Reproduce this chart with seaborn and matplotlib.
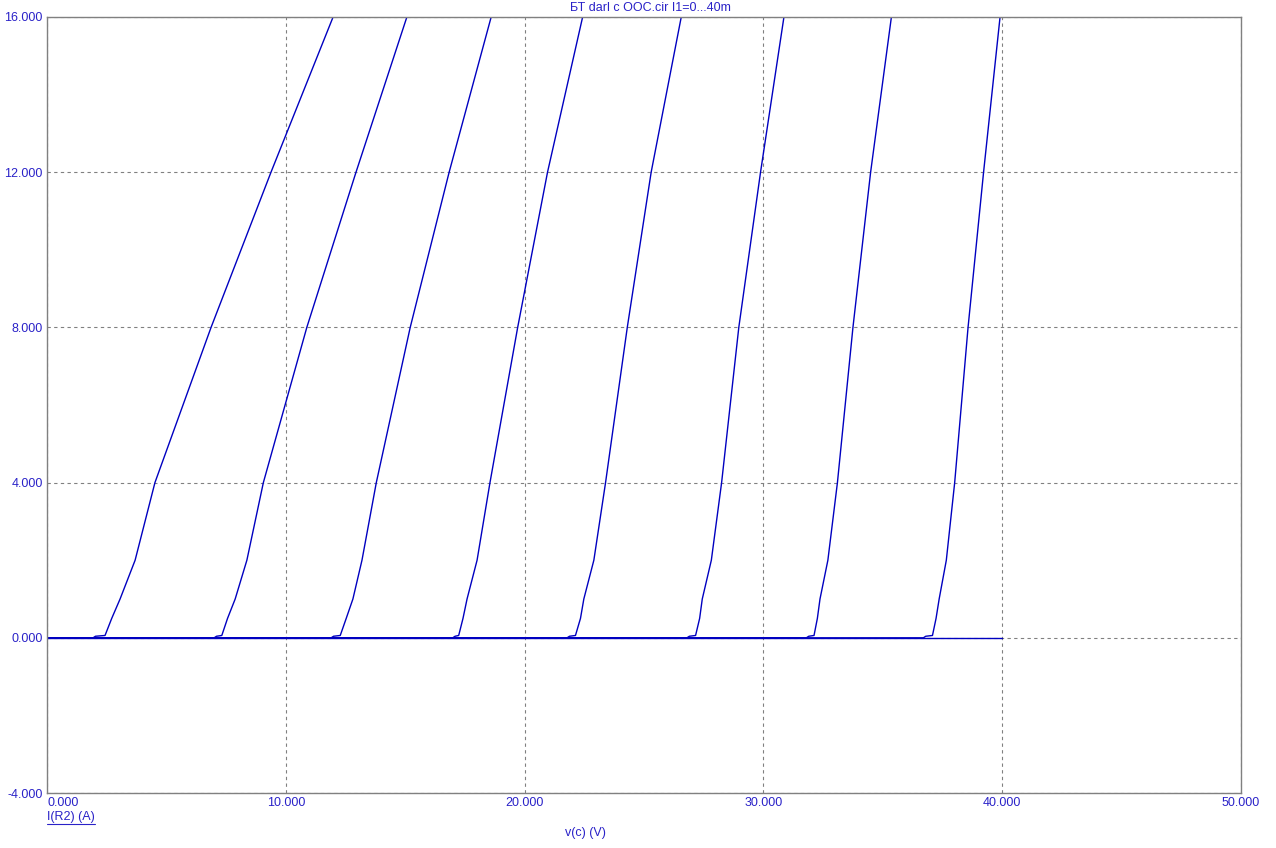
import numpy as np
import pandas as pd
import matplotlib.pyplot as plt
import seaborn as sns
from matplotlib.lines import Line2D

# collector current levels shared by every curve (A)
i_levels = [0.0, 0.0, 0.04, 0.06, 0.5, 1.0, 2.0, 4.0, 8.0, 12.0, 16.0]

# v(c) for each I1 step (V), same order as i_levels
v_5m = [0.0, 1.93, 2.03, 2.43, 2.71, 3.06, 3.69, 4.52, 6.87, 9.38, 11.98]
v_10m = [0.0, 7.00, 7.10, 7.32, 7.56, 7.88, 8.37, 9.06, 10.88, 12.94, 15.07]
v_15m = [0.0, 11.90, 12.00, 12.28, 12.53, 12.81, 13.19, 13.79, 15.21, 16.84, 18.60]
v_20m = [0.0, 16.99, 17.09, 17.24, 17.42, 17.59, 18.01, 18.55, 19.71, 20.96, 22.43]
v_25m = [0.0, 21.78, 21.88, 22.13, 22.34, 22.48, 22.90, 23.39, 24.30, 25.30, 26.56]
v_30m = [0.0, 26.80, 26.90, 27.16, 27.33, 27.44, 27.82, 28.25, 28.97, 29.88, 30.86]
v_35m = [0.0, 31.80, 31.90, 32.12, 32.26, 32.37, 32.70, 33.10, 33.75, 34.49, 35.36]
v_40m = [0.0, 36.70, 36.80, 37.08, 37.23, 37.36, 37.66, 38.01, 38.57, 39.22, 39.91]

# I1 = 0 gives no current over the whole sweep
v_0m = [0.0, 40.0]
i_0m = [0.0, 0.0]

x_ticks = [0, 10, 20, 30, 40, 50]
y_ticks = [-4, 0, 4, 8, 12, 16]

frames = [pd.DataFrame({"v": v_0m, "i": i_0m, "step": "0m"})]
for name, vals in [("5m", v_5m), ("10m", v_10m), ("15m", v_15m), ("20m", v_20m),
                   ("25m", v_25m), ("30m", v_30m), ("35m", v_35m), ("40m", v_40m)]:
    frames.append(pd.DataFrame({"v": vals, "i": i_levels, "step": name}))
df = pd.concat(frames, ignore_index=True)

sns.set_theme(style="white")
plt.rcParams["font.family"] = ["Liberation Sans", "DejaVu Sans"]

txt = "#2a22c8"
line_c = "#0000c0"
W, H = 1276, 848

fig = plt.figure(figsize=(W / 100, H / 100), dpi=100)
ax = fig.add_axes([47 / W, (H - 793) / H, (1241 - 47) / W, (793 - 17) / H])

steps = df["step"].unique()
sns.lineplot(data=df, x="v", y="i", hue="step", units="step", estimator=None,
             sort=False, palette=[line_c] * len(steps), linewidth=1.0,
             legend=False, ax=ax)

ax.set_xlim(0, 50)
ax.set_ylim(-4, 16)
ax.set_xticks(x_ticks, labels=[f"{v:.3f}" for v in x_ticks])
ax.set_yticks(y_ticks, labels=[f"{v:.3f}" for v in y_ticks])
ax.tick_params(length=0, labelsize=9, labelcolor=txt, pad=3)
ax.get_xticklabels()[0].set_horizontalalignment("left")
ax.set_xlabel("")
ax.set_ylabel("")

ax.grid(True, color="#808080", linestyle=(0, (3, 3)), linewidth=0.8)
for s in ax.spines.values():
    s.set_color("#808080")
    s.set_linewidth(1.0)

fig.text(650 / W, (H - 8) / H, "БТ darl c OOC.cir I1=0...40m", color=txt,
         fontsize=9, ha="center", va="center")
fig.text(585 / W, (H - 833) / H, "v(c) (V)", color=txt, fontsize=9,
         ha="center", va="center")
lab = fig.text(47 / W, (H - 817) / H, "I(R2) (A)", color=txt, fontsize=9,
               ha="left", va="center")

# underline the y-axis quantity like the original
fig.canvas.draw()
bb = lab.get_window_extent()
fig.add_artist(Line2D([bb.x0 / W, bb.x1 / W], [(bb.y0 - 1) / H, (bb.y0 - 1) / H],
                      color=txt, linewidth=0.8, transform=fig.transFigure))

fig.savefig("out.png", dpi=100, facecolor="white")
